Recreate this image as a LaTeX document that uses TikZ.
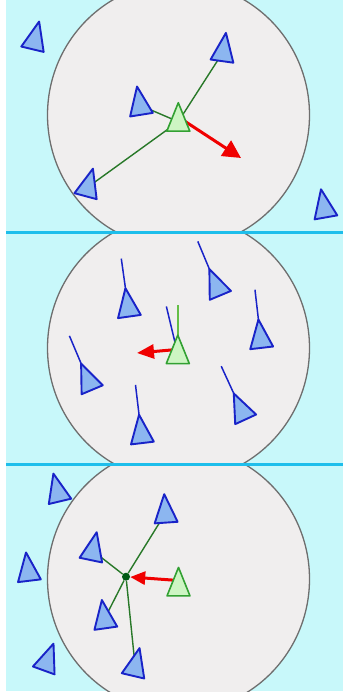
\documentclass[tikz,border=0pt]{standalone}
\definecolor{sky}{RGB}{200,248,250}
\definecolor{divider}{RGB}{30,190,235}
\definecolor{ringfill}{RGB}{240,238,238}
\definecolor{ringgray}{RGB}{110,110,110}
\definecolor{boidline}{RGB}{25,35,200}
\definecolor{boidfill}{RGB}{140,182,240}
\definecolor{selfline}{RGB}{50,160,50}
\definecolor{selffill}{RGB}{205,245,195}
\definecolor{linkgreen}{RGB}{40,120,40}
\definecolor{velgreen}{RGB}{100,190,70}
\definecolor{steerred}{RGB}{240,0,0}
\definecolor{comgreen}{RGB}{0,90,20}
\usepackage{tikz}
\usetikzlibrary{arrows.meta}

\tikzset{
    pics/boid/.style={code={\draw[#1] (0,-19) -- (11.5,9.5) -- (-11.5,9.5) -- cycle;}},
    pics/tail/.style={code={\draw[#1] (0,0) -- (0,-49);}},
    nbr/.style={draw=boidline, fill=boidfill, line width=1.9pt, line join=round},
    me/.style={draw=selfline, fill=selffill, line width=1.6pt, line join=round},
    link/.style={draw=linkgreen, line width=1.4pt},
    vel/.style={draw=boidline, line width=1.5pt},
    ownvel/.style={draw=velgreen, line width=1.5pt},
    steer/.style={draw=steerred, line width=3pt, -{Triangle[#1]}},
    ring/.style={draw=ringgray, fill=ringfill, line width=1.3pt},
    com/.style={circle, fill=comgreen, inner sep=0pt, minimum size=8pt},
}

\begin{document}
\begin{tikzpicture}[x=1pt, y=-1pt]
                \useasboundingbox (0,0) rectangle (343,695);
                % Background and the three neighbourhoods
                \fill[sky] (6,0) rectangle (343,691);
                \foreach \top/\bot/\cy in {0/232.5/115, 232.5/464.5/348, 464.5/691/579} {
                    \begin{scope}
                        \clip (6,\top) rectangle (343,\bot);
                        \draw[ring] (178.5,\cy) ellipse [x radius=131, y radius=133];
                    \end{scope}
                }
                \draw[divider, line width=3pt] (6,232.5) -- (343,232.5);
                \draw[divider, line width=3pt] (6,464.5) -- (343,464.5);

                % Panel 1: separation
                \coordinate (g1) at (178.3,121.7);
                \coordinate (o1) at (178.3,117);
                \coordinate (s1) at (241,158);
                \foreach \n/\x/\y in {1/34.7/40, 2/223.3/51.7, 3/140/105.3, 4/88/187, 5/324.3/208} {
                    \coordinate (b\n) at (\x,\y);
                }
                \foreach \n in {2,3,4} {
                    \draw[link] (g1) -- (b\n);
                }
                \draw[steer={length=18pt, width=18pt}] (o1) -- (s1);
                \foreach \n/\r in {1/-13.5, 2/-8, 3/9, 4/-15, 5/10} {
                    \pic[rotate=\r] at (b\n) {boid=nbr};
                }
                \pic at (g1) {boid=me};

                % Panel 2: alignment
                \coordinate (g2) at (177.8,354.1);
                \coordinate (o2) at (177.8,349.4);
                \coordinate (s2) at (137,353);
                \draw[steer={length=17pt, width=14pt}] (o2) -- (s2);
                \foreach \n/\x/\y/\r in {a/128.1/307.1/8, b/88.5/381/22.9, c/141.3/433.6/6.8,
                                         d/216.7/286.6/22.7, e/260.6/338.4/6.6, f/241.7/410.7/24.7} {
                    \coordinate (n\n) at (\x,\y);
                    \pic[rotate=\r] at (n\n) {tail=vel};
                    \pic[rotate=\r] at (n\n) {boid=nbr};
                }
                \pic[rotate=13.5] at (g2) {tail=vel};
                \pic at (g2) {tail=ownvel};
                \pic at (g2) {boid=me};

                % Panel 3: cohesion
                \node[com] (c3) at (126,576.7) {};
                \coordinate (g3) at (178.5,586.4);
                \coordinate (o3) at (178.5,580.5);
                \foreach \n/\x/\y in {a/57.8/492.1, b/92.8/550.8, c/28.3/571.3, d/104.5/618.8,
                                      e/47/661.5, f/135.2/666.6, g/165.5/513.1} {
                    \coordinate (m\n) at (\x,\y);
                }
                \foreach \n in {b,d,f,g} {
                    \draw[link] (c3) -- (m\n);
                }
                \draw[steer={length=15pt, width=13pt}] (o3) -- (c3);
                \foreach \n/\r in {a/13.4, b/-11.8, c/6.9, d/8, e/-20, f/-13.2, g/3.9} {
                    \pic[rotate=\r] at (m\n) {boid=nbr};
                }
                \pic at (g3) {boid=me};
            \end{tikzpicture}
\end{document}
